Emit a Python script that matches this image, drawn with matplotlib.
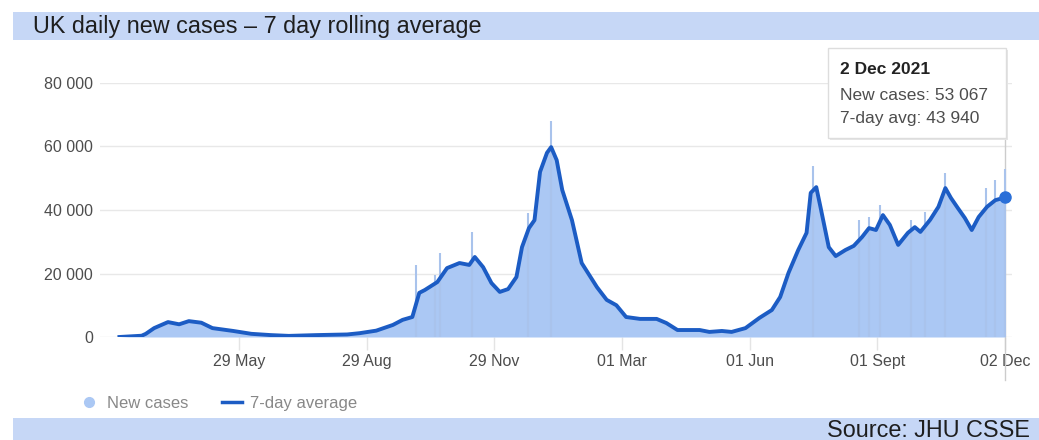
import matplotlib
matplotlib.use('Agg')
import matplotlib.pyplot as plt
import matplotlib.transforms as mtransforms
from matplotlib.patches import Rectangle
from matplotlib.lines import Line2D
import numpy as np

plt.rcParams['font.family'] = ['Liberation Sans', 'DejaVu Sans']

# 7-day rolling average
avg_dates = ['2020-03-04', '2020-03-20', '2020-03-23', '2020-03-29', '2020-04-08', '2020-04-16',
             '2020-04-23', '2020-05-02', '2020-05-10', '2020-05-25', '2020-06-07', '2020-06-21',
             '2020-07-04', '2020-07-24', '2020-08-15', '2020-08-24', '2020-09-05', '2020-09-17',
             '2020-09-24', '2020-10-01', '2020-10-06', '2020-10-10', '2020-10-19', '2020-10-26',
             '2020-11-04', '2020-11-11', '2020-11-15', '2020-11-21', '2020-11-27', '2020-12-03',
             '2020-12-09', '2020-12-15', '2020-12-19', '2020-12-24', '2020-12-28', '2021-01-01',
             '2021-01-06', '2021-01-09', '2021-01-13', '2021-01-17', '2021-01-24', '2021-01-31',
             '2021-02-11', '2021-02-18', '2021-02-25', '2021-03-04', '2021-03-14', '2021-03-26',
             '2021-04-02', '2021-04-10', '2021-04-26', '2021-05-03', '2021-05-12', '2021-05-19',
             '2021-05-29', '2021-06-08', '2021-06-17', '2021-06-23', '2021-06-29', '2021-07-06',
             '2021-07-12', '2021-07-15', '2021-07-19', '2021-07-22', '2021-07-28', '2021-08-02',
             '2021-08-09', '2021-08-15', '2021-08-21', '2021-08-26', '2021-08-31', '2021-09-05',
             '2021-09-10', '2021-09-16', '2021-09-23', '2021-09-28', '2021-10-02', '2021-10-09',
             '2021-10-15', '2021-10-20', '2021-10-24', '2021-10-29', '2021-11-03', '2021-11-08',
             '2021-11-13', '2021-11-19', '2021-11-25', '2021-12-02']
avg_values = [0, 400, 1000, 2800, 4700, 4000,
              5000, 4500, 2800, 1900, 1000, 600,
              350, 600, 800, 1200, 2000, 3800,
              5400, 6300, 13900, 14800, 17300, 21700,
              23300, 22700, 25200, 22000, 17000, 14200,
              15100, 18900, 28300, 34300, 36800, 52000,
              58000, 59800, 55700, 46300, 36800, 23300,
              15700, 11700, 10000, 6300, 5700, 5700,
              4400, 2200, 2200, 1600, 1900, 1600,
              2800, 6000, 8500, 12600, 20200, 27400,
              32800, 45400, 47200, 41000, 28300, 25500,
              27400, 28700, 31500, 34300, 33700, 38400,
              35300, 29000, 32800, 34600, 33100, 36900,
              41000, 46900, 43800, 40600, 37500, 33700,
              37800, 41000, 43100, 43940]

# daily new cases that stick out above the average
spike_dates = ['2020-10-04', '2020-10-17', '2020-10-21', '2020-11-13', '2020-12-23',
               '2021-01-09', '2021-07-17', '2021-08-19', '2021-08-26', '2021-09-03',
               '2021-09-25', '2021-10-05', '2021-10-20', '2021-11-18', '2021-11-25', '2021-12-02']
spike_values = [22700, 19500, 26500, 33000, 39000,
                68000, 54000, 36800, 37800, 41600,
                36800, 39400, 51700, 46900, 49400, 53067]

tick_dates = ['2020-05-29', '2020-08-29', '2020-11-29', '2021-03-01', '2021-06-01', '2021-09-01', '2021-12-02']
tick_labels = ['29 May', '29 Aug', '29 Nov', '01 Mar', '01 Jun', '01 Sept', '02 Dec']
y_ticks = [0, 20000, 40000, 60000, 80000]

tip_date = '2 Dec 2021'
tip_new = 53067
tip_avg = 43940

line_col = '#1c5cc4'
fill_col = '#abc8f4'
band_col = '#c6d7f6'
txt_col = '#4d4d4d'

avg_d = np.array(avg_dates, dtype='datetime64[D]')
spk_d = np.array(spike_dates, dtype='datetime64[D]')
tk_d = np.array(tick_dates, dtype='datetime64[D]')

W, H = 1039, 440
fig = plt.figure(figsize=(W / 100, H / 100), dpi=100)

def fx(px):
    return px / W

def fy(py):
    return 1 - py / H

# header and footer bands
fig.add_artist(Rectangle((fx(13), fy(40)), 1 - fx(13), fy(12) - fy(40), transform=fig.transFigure,
                         color=band_col, lw=0))
fig.text(fx(33), fy(26), 'UK daily new cases \u2013 7 day rolling average', fontsize=16.8,
         color='#1e1e1e', va='center', ha='left')
fig.add_artist(Rectangle((fx(13), 0), 1 - fx(13), fy(418), transform=fig.transFigure,
                         color=band_col, lw=0))
fig.text(fx(1030), fy(430), 'Source: JHU CSSE', fontsize=16.8, color='#1e1e1e', va='center', ha='right')

ax = fig.add_axes([fx(100), fy(337), fx(1012) - fx(100), fy(83) - fy(337)])

ax.fill_between(avg_d, 0, avg_values, color=fill_col, lw=0, zorder=2)
ax.vlines(spk_d, 0, spike_values, color='#a9c3ec', lw=1.5, zorder=2)
ax.plot(avg_d, avg_values, color=line_col, lw=2.8, zorder=3, solid_joinstyle='round')
ax.plot(avg_d[-1:], avg_values[-1:], 'o', color='#2a6fd8', ms=8, zorder=4)

ax.set_xlim(np.datetime64('2020-02-19'), np.datetime64('2021-12-07'))
ax.set_ylim(0, 80000)
ax.set_yticks(y_ticks)
ax.set_yticklabels([f'{v:,}'.replace(',', ' ') for v in y_ticks])
ax.set_xticks(tk_d)
ax.set_xticklabels(tick_labels)
ax.tick_params(axis='y', length=0, pad=5, labelsize=11.5, labelcolor=txt_col)
ax.tick_params(axis='x', length=9, width=1, color='#e4e4e4', pad=3, labelsize=11.5, labelcolor=txt_col)
ax.grid(axis='y', color='#e8e8e8', lw=1)
ax.set_axisbelow(True)
for s in ax.spines.values():
    s.set_visible(False)

# hover crosshair and tooltip
blend = mtransforms.blended_transform_factory(ax.transData, fig.transFigure)
ax.plot([avg_d[-1], avg_d[-1]], [fy(138), fy(380)], transform=blend, color='#cccccc', lw=1,
        clip_on=False, zorder=1)
fig.add_artist(Rectangle((fx(830), fy(140)), fx(178), fy(50) - fy(140), transform=fig.transFigure,
                         facecolor='#e6e6e6', lw=0))
fig.add_artist(Rectangle((fx(828), fy(138)), fx(178), fy(48) - fy(138), transform=fig.transFigure,
                         facecolor='white', edgecolor='#dddddd', lw=1))
fig.text(fx(840), fy(69), tip_date, fontsize=12.5, fontweight='bold', color='#222222', va='center')
fig.text(fx(840), fy(95), f'New cases: {tip_new:,}'.replace(',', ' '), fontsize=12.5, color=txt_col, va='center')
fig.text(fx(840), fy(118), f'7-day avg: {tip_avg:,}'.replace(',', ' '), fontsize=12.5, color=txt_col, va='center')

# legend
handles = [Line2D([], [], marker='o', ls='none', color=fill_col, ms=7),
           Line2D([], [], color=line_col, lw=2.5)]
fig.legend(handles, ['New cases', '7-day average'], loc='center left', bbox_to_anchor=(fx(64), fy(403)),
           ncol=2, frameon=False, fontsize=12, labelcolor='#888888', handlelength=1.2,
           handletextpad=0.5, columnspacing=2.0)

fig.savefig('out.png', dpi=100)
